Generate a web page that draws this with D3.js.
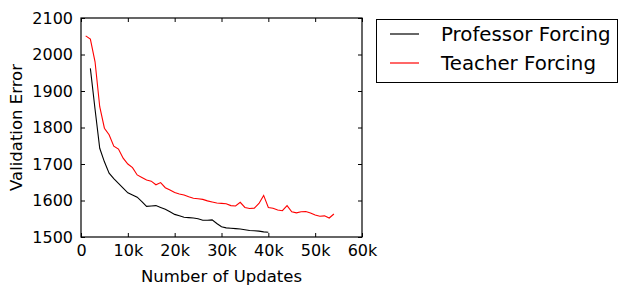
<!DOCTYPE html>
<html>
<head>
<meta charset="utf-8">
<script src="https://cdn.jsdelivr.net/npm/d3@7"></script>
<style>
  body { margin: 0; background: #fff; }
  text { font-family: 'DejaVu Sans', sans-serif; fill: #000; }
</style>
</head>
<body>
<svg id="svg" width="628" height="295"></svg>
<script>
// updates in thousands
const profX = [2, 3, 4, 5, 6, 7, 8, 9, 10, 11, 12, 13, 14, 15, 16, 17, 18, 19, 20,
  21, 22, 23, 24, 25, 26, 27, 28, 29, 30, 31, 32, 33, 34, 35, 36, 37, 38, 39, 40]
const profY = [1962, 1850, 1743, 1706, 1675, 1660, 1647, 1634, 1621, 1615, 1609, 1597, 1584, 1585, 1586, 1581, 1576, 1569, 1562,
  1558, 1554, 1553, 1552, 1550, 1546, 1546, 1547, 1537, 1528, 1525, 1524, 1523, 1522, 1520, 1518, 1517, 1516, 1514, 1513]

const teachX = [1, 2, 3, 4, 5, 6, 7, 8, 9, 10, 11, 12, 13, 14, 15, 16, 17, 18, 19, 20,
  21, 22, 23, 24, 25, 26, 27, 28, 29, 30, 31, 32, 33, 34, 35, 36, 37, 38, 39, 40,
  41, 42, 43, 44, 45, 46, 47, 48, 49, 50, 51, 52, 53, 54]
const teachY = [2051, 2042, 1980, 1857, 1798, 1780, 1749, 1741, 1716, 1700, 1690, 1670, 1663, 1656, 1653, 1643, 1649, 1635, 1629, 1622,
  1618, 1615, 1610, 1606, 1605, 1603, 1599, 1596, 1593, 1592, 1591, 1586, 1585, 1595, 1581, 1578, 1579, 1592, 1614, 1581,
  1579, 1574, 1572, 1586, 1569, 1566, 1569, 1570, 1566, 1560, 1557, 1558, 1552, 1563]

const xTicks = [0, 10, 20, 30, 40, 50, 60]
const xTickLabels = ['0', '10k', '20k', '30k', '40k', '50k', '60k']
const yTicks = [1500, 1600, 1700, 1800, 1900, 2000, 2100]

const seriesNames = ['Professor Forcing', 'Teacher Forcing']
const seriesColors = ['#000000', '#ff0000']

const plotLeft = 81, plotRight = 362, plotTop = 18, plotBottom = 237

const xScale = d3.scaleLinear().domain([0, 60]).range([plotLeft, plotRight])
const yScale = d3.scaleLinear().domain([1500, 2100]).range([plotBottom, plotTop])

const svg = d3.select('#svg')

const series = [
  profX.map((x, i) => [x, profY[i]]),
  teachX.map((x, i) => [x, teachY[i]])
]

const line = d3.line().x(d => xScale(d[0])).y(d => yScale(d[1]))

svg.selectAll('path.series')
  .data(series)
  .enter()
  .append('path')
  .attr('class', 'series')
  .attr('d', line)
  .attr('fill', 'none')
  .attr('stroke', (d, i) => seriesColors[i])
  .attr('stroke-width', 1.1)

// axes: ticks point inward on all four sides
svg.append('g')
  .attr('transform', `translate(0,${plotBottom})`)
  .call(d3.axisBottom(xScale).tickValues(xTicks).tickFormat((d, i) => xTickLabels[i]).tickSizeInner(-4).tickSizeOuter(0).tickPadding(8))
svg.append('g')
  .attr('transform', `translate(0,${plotTop})`)
  .call(d3.axisTop(xScale).tickValues(xTicks).tickFormat('').tickSizeInner(-4).tickSizeOuter(0))
svg.append('g')
  .attr('transform', `translate(${plotLeft},0)`)
  .call(d3.axisLeft(yScale).tickValues(yTicks).tickFormat(d3.format('d')).tickSizeInner(-4).tickSizeOuter(0).tickPadding(8))
svg.append('g')
  .attr('transform', `translate(${plotRight},0)`)
  .call(d3.axisRight(yScale).tickValues(yTicks).tickFormat('').tickSizeInner(-4).tickSizeOuter(0))

svg.selectAll('.domain').remove()
svg.selectAll('.tick line').attr('stroke', '#000')
svg.selectAll('.tick text')
  .style('font-size', '16px')
  .style('font-family', 'DejaVu Sans')
  .attr('fill', '#000')

svg.append('rect')
  .attr('x', plotLeft)
  .attr('y', plotTop)
  .attr('width', plotRight - plotLeft)
  .attr('height', plotBottom - plotTop)
  .attr('fill', 'none')
  .attr('stroke', '#000')
  .attr('stroke-width', 1.2)

svg.append('text')
  .text('Number of Updates')
  .attr('x', (plotLeft + plotRight) / 2)
  .attr('y', 282)
  .attr('text-anchor', 'middle')
  .style('font-size', '16.5px')

svg.append('text')
  .text('Validation Error')
  .attr('transform', `translate(22,${(plotTop + plotBottom) / 2}) rotate(-90)`)
  .attr('text-anchor', 'middle')
  .style('font-size', '16.5px')

// legend
const legend = svg.append('g')
legend.append('rect')
  .attr('x', 376.5)
  .attr('y', 19.5)
  .attr('width', 241)
  .attr('height', 63)
  .attr('fill', '#fff')
  .attr('stroke', '#000')
  .attr('stroke-width', 1)

const items = legend.selectAll('g.item')
  .data(seriesNames)
  .enter()
  .append('g')
  .attr('class', 'item')
  .attr('transform', (d, i) => `translate(0,${34 + i * 29})`)

items.append('line')
  .attr('x1', 390)
  .attr('x2', 419)
  .attr('stroke', (d, i) => seriesColors[i])
  .attr('stroke-width', 1.2)

items.append('text')
  .text(d => d)
  .attr('x', 441)
  .attr('y', 7)
  .style('font-size', '19.8px')
</script>
</body>
</html>
